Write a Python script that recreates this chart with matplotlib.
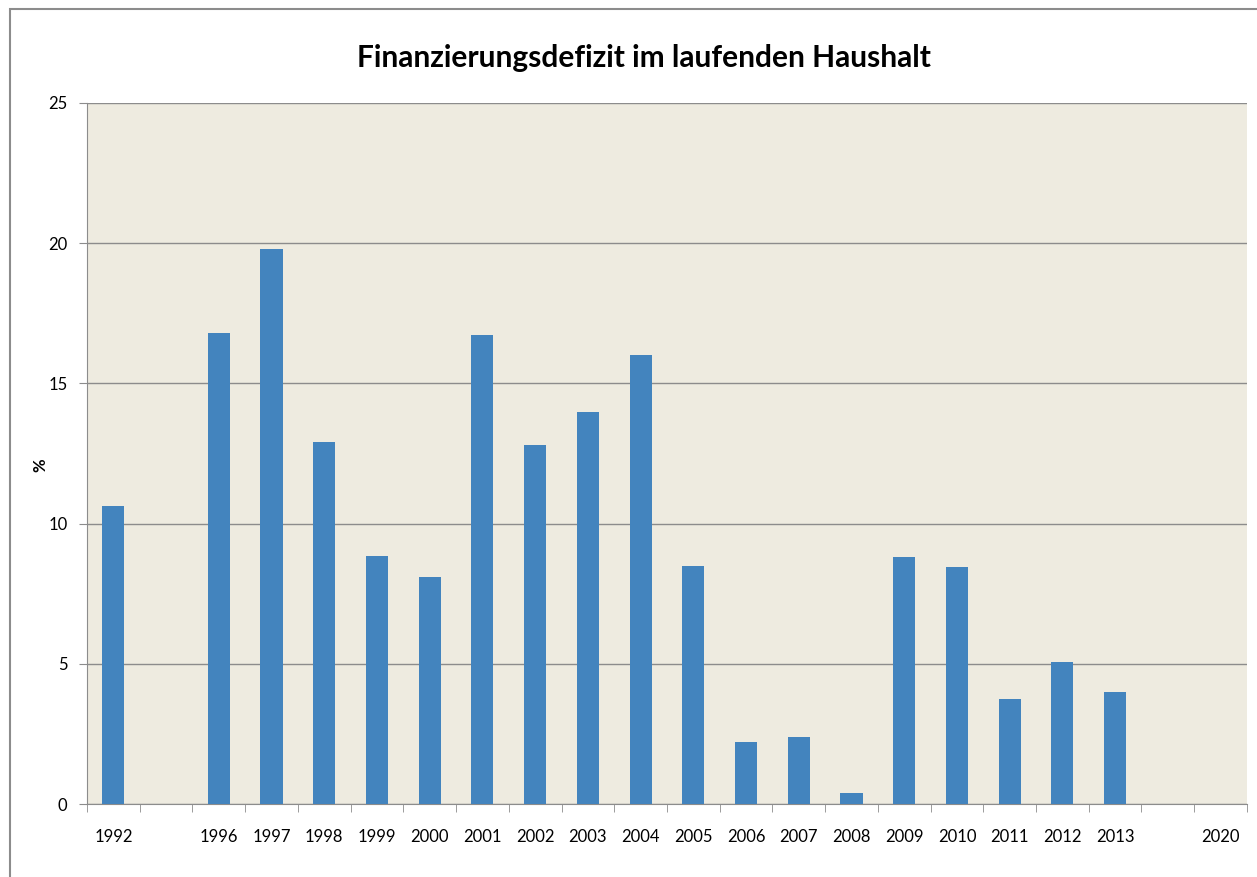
import matplotlib.pyplot as plt
from matplotlib.patches import Rectangle

plt.rcParams['font.family'] = ['Lato', 'DejaVu Sans']

years = ["1992", "", "1996", "1997", "1998", "1999", "2000", "2001", "2002", "2003",
         "2004", "2005", "2006", "2007", "2008", "2009", "2010", "2011", "2012", "2013",
         "", "2020"]
deficit = [10.63, None, 16.8, 19.79, 12.91, 8.84, 8.1, 16.73, 12.8, 13.98,
           16.01, 8.49, 2.21, 2.39, 0.39, 8.81, 8.45, 3.74, 5.06, 3.99,
           None, None]

fig = plt.figure(figsize=(12.57, 8.77), dpi=100)
ax = fig.add_axes([0.0692, 0.0832, 0.9228, 0.7994])

# gray frame around the chart area
fig.patches.append(Rectangle((10 / 1257, -0.1), 1.2, 1 - 9 / 877 + 0.1,
                             transform=fig.transFigure, fill=False,
                             edgecolor='#8c8c8c', linewidth=1.5))

x = list(range(len(years)))
heights = [v if v is not None else 0 for v in deficit]
ax.bar(x, heights, width=0.42, color='#4384BE', zorder=3)

ax.set_facecolor('#EEEBE0')
ax.set_xlim(-0.5, len(years) - 0.5)
ax.set_ylim(0, 25)
ax.set_yticks([0, 5, 10, 15, 20, 25])
ax.yaxis.grid(True, color='#8c8c8c', linewidth=1, zorder=1)

ax.set_xticks(x)
ax.set_xticklabels(years, fontsize=12)
ax.tick_params(axis='x', which='major', length=0, pad=18)
ax.set_xticks([i - 0.5 for i in range(len(years) + 1)], minor=True)
ax.tick_params(axis='x', which='minor', length=6, color='#8c8c8c')
ax.tick_params(axis='y', length=6, color='#8c8c8c', labelsize=12, pad=8)

for s in ['top', 'right']:
    ax.spines[s].set_visible(False)
for s in ['left', 'bottom']:
    ax.spines[s].set_color('#8c8c8c')

fig.text(40 / 1257, 1 - 465 / 877, '%', fontsize=12, fontweight='bold',
         rotation=90, ha='center', va='center')
fig.suptitle('Finanzierungsdefizit im laufenden Haushalt', fontsize=21.5,
             fontweight='bold', x=644 / 1257, y=1 - 58 / 877, va='center')

fig.savefig('out.png', dpi=100)
